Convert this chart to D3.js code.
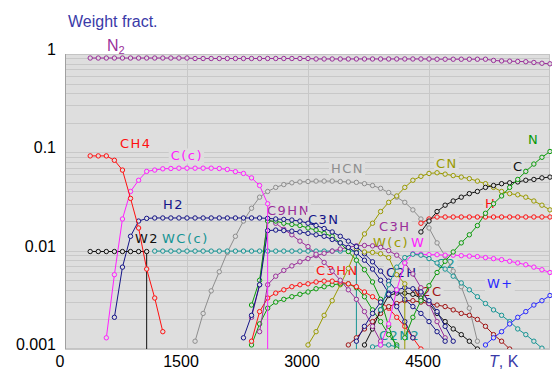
<!DOCTYPE html>
<html><head><meta charset="utf-8">
<script src="https://cdn.jsdelivr.net/npm/d3@7"></script>
<style>body{margin:0;background:#fff}svg{display:block}</style>
</head><body>
<svg id="c" width="552" height="369"></svg>
<script>
// ---------- DATA ----------
const temps = [300,400,500,600,700,800,900,1000,1100,1200,1300,1400,1500,1600,1700,1800,1900,2000,2100,2200,2300,2400,2500,2600,2700,2800,2900,3000,3100,3200,3300,3400,3500,3600,3700,3800,3900,4000,4100,4200,4300,4400,4500,4600,4700,4800,4900,5000,5100,5200,5300,5400,5500,5600,5700,5800,5900,6000];
const xTicks = [0,1500,3000,4500];
const yTicks = [1,0.1,0.01,0.001];
const yTickLabels = ["1","0.1","0.01","0.001"];

const vN2 = [0.91,0.91,0.91,0.91,0.91,0.91,0.91,0.91,0.91,0.91,0.91,0.91,0.91,
  0.90,0.90,0.90,0.90,0.90,0.90,0.90,0.90,0.90,0.90,0.90,0.90,0.90,0.90,0.90,
  0.89,0.89,0.89,0.89,0.89,0.89,0.89,0.89,0.89,0.89,0.89,0.89,0.89,0.89,0.89,
  0.885,0.885,0.885,0.885,0.885,0.885,0.885,0.86,0.85,0.845,0.84,0.835,0.82,0.805,0.795];
const vCH4 = [0.092,0.092,0.092,0.083,0.066,0.034,0.017,0.0065,0.0033,0.0015];
const vCc = [0.0013,0.0057,0.021,0.040,0.052,0.064,0.066,0.068,0.0685,0.069,0.069,0.069,0.069,0.069,0.0685,0.067,0.0636,0.061,0.055,0.046,0.030];
const vH2 = [0.0021,0.0068,0.014,0.020,0.0213,0.0215,0.0215,0.0215,0.0215,0.0215,0.0215,0.0215,0.0215,0.0215,0.0215,0.0215,0.0215,0.0215,0.0215,
  0.0213,0.021,0.0208,0.0205,0.020,0.019,0.018,0.0168,0.0155,0.014,0.0125,0.011,0.0093,0.0077,0.0062,0.0049,0.0039,0.0032,0.0027,0.0023,0.0019,0.0015,0.0012];
const vW2 = [0.0098,0.0098,0.0098,0.0098,0.0098,0.0098,0.0098,0.0098];
const vWCc = [0.0099,0.0099,0.0099,0.0099,0.0099,0.0099,0.0099,0.0099,0.0099,0.0099,0.0099,0.0099,0.0099,0.0099,0.0099,0.0099,0.0099,0.0099,0.0099,0.0099,0.0099,0.0099,0.0099,0.0099,0.0099,0.0099];
const vHCN = [0.0012,0.0023,0.0039,0.0061,0.0096,0.014,0.020,0.027,0.035,0.040,0.044,0.047,0.049,0.050,0.0505,0.051,0.051,0.051,0.0505,0.050,0.0495,0.048,0.046,0.043,0.039,0.035,0.031,0.026,0.021,0.017,0.012,0.0088,0.0062,0.0043,0.0026,0.0012];
const vCN = [0.0011,0.0015,0.0022,0.0031,0.0045,0.0066,0.0105,0.0148,0.019,0.025,0.031,0.036,0.044,0.052,0.057,0.061,0.062,0.060,0.058,0.056,0.054,0.051,0.048,0.044,0.040,0.038,0.037,0.035,0.032,0.029,0.026];
const vN = [0.0013,0.0021,0.0031,0.0044,0.006,0.0078,0.0097,0.012,0.0145,0.018,0.024,0.030,0.036,0.044,0.053,0.064,0.076,0.089,0.102];
const vC = [0.0155,0.020,0.025,0.029,0.032,0.035,0.038,0.040,0.044,0.046,0.048,0.049,0.050,0.052,0.053,0.055,0.056];
const vH = [0.019,0.021,0.022,0.022,0.022,0.022,0.022,0.022,0.022,0.022,0.022,0.022,0.022,0.022,0.022,0.022,0.022];
const vC9HN = [0.0021,0.0045,0.021,0.019,0.0165,0.0145,0.0125,0.011,0.0092,0.0076,0.0062,0.005,0.004,0.0032,0.0024,0.0017,0.0012];
const vC3N = [0.0013,0.0022,0.0045,0.016,0.0162,0.016,0.0158,0.0155,0.015,0.0145,0.014,0.013,0.012,0.0108,0.0095,0.008,0.0065,0.005,0.0037,0.0027,0.0019,0.0013];
const vC3HN = [0.0012,0.0024,0.0033,0.0037,0.0040,0.0043,0.0045,0.0046,0.0048,0.0049,0.0049,0.0048,0.0046,0.0043,0.0038,0.0034,0.0030,0.0026,0.0021,0.0017,0.0013,0.001];
const vC3H = [0.0015,0.0045,0.0055,0.0063,0.0070,0.0077,0.0083,0.0089,0.0094,0.0099,0.0104,0.0108,0.0112,0.0113,0.0112,0.0108,0.0100,0.0090,0.0075,0.0058,0.0042,0.0029,0.0019,0.0013];
const vC2H = [0.0012,0.0017,0.0023,0.0030,0.0036,0.0040,0.0042,0.0041,0.0038,0.0031,0.0024,0.0017,0.0012];
const vWc = [0.0097,0.0096,0.0093,0.0085,0.0057,0.0046];
const vW = [0.0011,0.0018,0.004,0.0075,0.0093,0.0092,0.0091,0.0091,0.009,0.009,0.0089,0.0088,0.0087,0.0085,0.0083,0.0081,0.0078,0.0075,0.0072,0.0068,0.0064,0.0060];
const vC2 = [0.0025,0.0045,0.0068,0.0085,0.0092,0.0090,0.0083,0.0075,0.0065,0.0055,0.0047,0.0040,0.0034,0.0029,0.0025,0.0022,0.0019,0.0016,0.0014,0.0012,0.00102];
const vN2C = [0.0011,0.0013,0.0016,0.0019,0.0023,0.0027,0.0029,0.0031,0.0031,0.0030,0.0029,0.0028,0.0027,0.0025,0.0023,0.0022,0.0020,0.0017,0.0014,0.0012,0.0010];
const vWp = [0.0011,0.0013,0.0015,0.0018,0.0021,0.0024,0.0028,0.0031,0.0035];
const vC2N2 = [0.00105,0.0011,0.0011,0.00105];
const vG1 = [0.0028,0.005,0.020,0.020,0.019,0.0185,0.018,0.017,0.0162,0.015,0.014,0.012,0.0098,0.0080,0.0064,0.0048,0.0032,0.0017,0.001];
const vG2 = [0.0011,0.0018,0.0026,0.003,0.0032,0.0034,0.0036,0.0038,0.0041,0.0043,0.0045,0.0046,0.0046,0.0042,0.0034,0.0025,0.0019,0.0014,0.0011];
const vK2 = [0.0011,0.0016,0.0025,0.0035,0.0037,0.0037,0.0036,0.0033,0.0029,0.0023,0.0019,0.0016,0.0014,0.0012,0.001];

// ---------- STYLE / LAYOUT ----------
const C = {
  purple:"#9a2f9a", red:"#ff1010", magenta:"#ff20ff", navy:"#141488", black:"#111111",
  teal:"#159494", gray:"#8e8e8e", olive:"#9a9a00", green:"#0a9a0a", dred:"#a01414", blue:"#2828ff"
};
const series = [
  {key:"N2",  from:300,  values:vN2,  color:C.purple},
  {key:"HCN", from:1600, values:vHCN, color:C.gray},
  {key:"WCc", from:1100, values:vWCc, color:C.teal, drop:true},
  {key:"CN",  from:3000, values:vCN,  color:C.olive},
  {key:"G2",  from:2300, values:vG2,  color:C.green},
  {key:"C3HN",from:2300, values:vC3HN,color:C.red},
  {key:"N2C", from:3500, values:vN2C, color:C.dred},
  {key:"C2N2",from:3800, values:vC2N2,color:C.teal},
  {key:"K2",  from:3700, values:vK2,  color:C.black},
  {key:"C3H", from:2400, values:vC3H, color:C.purple},
  {key:"C9HN",from:2300, values:vC9HN,color:C.purple},
  {key:"G1",  from:2300, values:vG1,  color:C.green},
  {key:"C3N", from:2200, values:vC3N, color:C.navy},
  {key:"C2H", from:3600, values:vC2H, color:C.navy},
  {key:"H2",  from:600,  values:vH2,  color:C.navy},
  {key:"Wc",  from:3700, values:vWc,  color:C.olive, drop:true},
  {key:"W",   from:3900, values:vW,   color:C.magenta},
  {key:"C2",  from:3900, values:vC2,  color:C.teal},
  {key:"Wp",  from:5200, values:vWp,  color:C.blue},
  {key:"H",   from:4400, values:vH,   color:C.red},
  {key:"C",   from:4400, values:vC,   color:C.black},
  {key:"N",   from:4200, values:vN,   color:C.green},
  {key:"W2",  from:300,  values:vW2,  color:C.black, drop:true},
  {key:"Cc",  from:500,  values:vCc,  color:C.magenta, drop:true},
  {key:"CH4", from:300,  values:vCH4, color:C.red}
];
// curve labels: anchored in data space (T, value) at left/baseline
const curveLabels = [
  {text:"CH4", T:669, v:0.111, color:C.red},
  {text:"C(c)", T:1298, v:0.0826, color:C.magenta},
  {text:"HCN", T:3285, v:0.0623, color:C.gray},
  {text:"CN", T:4587, v:0.0701, color:C.olive},
  {text:"N", T:5727, v:0.1215, color:C.green},
  {text:"C", T:5541, v:0.0653, color:C.black},
  {text:"H", T:5194, v:0.027, color:C.red},
  {text:"H2", T:1202, v:0.0265, color:C.navy},
  {text:"W2", T:855, v:0.01196, color:C.black},
  {text:"WC(c)", T:1190, v:0.0121, color:C.teal},
  {text:"C9HN", T:2492, v:0.0231, color:C.purple},
  {text:"C3N", T:3000, v:0.0187, color:C.navy},
  {text:"C3H", T:3880, v:0.0157, color:C.purple},
  {text:"W(c)", T:3806, v:0.0109, color:C.olive},
  {text:"W", T:4277, v:0.0110, color:C.magenta},
  {text:"C2", T:4587, v:0.00667, color:C.teal},
  {text:"C3HN", T:3099, v:0.00566, color:C.red},
  {text:"C2H", T:3967, v:0.00546, color:C.navy},
  {text:"N2C", T:4277, v:0.00342, color:C.dred},
  {text:"W+", T:5219, v:0.00417, color:C.blue},
  {text:"C2N2", T:3880, v:0.00123, color:C.teal}
];

// ---------- DRAW ----------
const svg = d3.select("#c");
const BG = "#dedede", GRID = "#c8c8c8";
const x = d3.scaleLinear().domain([0,6000]).range([66,550]);
const y = d3.scaleLog().domain([0.001,1]).range([349,54]);
const px0 = 65, px1 = 550, py0 = 54, py1 = 349;

svg.append("rect").attr("x",px0).attr("y",py0).attr("width",px1-px0).attr("height",py1-py0).attr("fill",BG);

const grid = svg.append("g").attr("stroke",GRID).attr("stroke-width",1).attr("shape-rendering","crispEdges");
grid.selectAll("line.h").data(y.ticks()).join("line")
  .attr("x1",px0).attr("x2",px1).attr("y1",d=>Math.round(y(d))+0.5).attr("y2",d=>Math.round(y(d))+0.5);
grid.selectAll("line.v").data(xTicks.filter(t=>t>0)).join("line")
  .attr("y1",py0).attr("y2",py1).attr("x1",d=>Math.round(x(d))+0.5).attr("x2",d=>Math.round(x(d))+0.5);

// border
svg.append("rect").attr("x",px0+0.5).attr("y",py0+0.5).attr("width",px1-px0-1).attr("height",py1-py0-1)
  .attr("fill","none").attr("stroke","#c4c4c4").attr("shape-rendering","crispEdges");
svg.append("line").attr("x1",px0+0.5).attr("x2",px0+0.5).attr("y1",py0).attr("y2",py1)
  .attr("stroke","#a0a0a0").attr("shape-rendering","crispEdges");

// axis labels
const tickFont = "Liberation Sans, Arial, sans-serif";
svg.append("g").selectAll("text").data(yTicks).join("text")
  .attr("x",56).attr("y",d=>y(d)+1).attr("text-anchor","end")
  .attr("font-family",tickFont).attr("font-size",16).attr("fill","#000")
  .text((d,i)=>yTickLabels[i]);
svg.append("g").selectAll("text").data(xTicks).join("text")
  .attr("x",d=>x(d)-6).attr("y",367).attr("text-anchor","middle")
  .attr("font-family",tickFont).attr("font-size",16).attr("fill","#000")
  .text(d=>d);

svg.append("text").attr("x",68).attr("y",27).attr("font-family",tickFont).attr("font-size",16)
  .attr("fill","#3a3aa8").text("Weight fract.");
const tk = svg.append("text").attr("x",489).attr("y",367).attr("font-family",tickFont).attr("font-size",16).attr("fill","#3a3aa8");
tk.append("tspan").attr("font-style","italic").text("T");
tk.append("tspan").text(", K");

// N2 label with subscript
const n2 = svg.append("text").attr("x",x(508)).attr("y",y(1.073)).attr("font-family",tickFont).attr("font-size",16).attr("fill",C.purple);
n2.append("tspan").text("N");
n2.append("tspan").attr("font-size",11).attr("dy",3).text("2");

// curve labels with background
const lblG = svg.append("g");
curveLabels.forEach(l=>{
  const g = lblG.append("g");
  const t = g.append("text").attr("x",x(l.T)).attr("y",y(l.v))
    .attr("font-family","DejaVu Sans, sans-serif").attr("font-size",13).attr("letter-spacing",1.5)
    .attr("fill",l.color).text(l.text);
  const b = t.node().getBBox();
  g.insert("rect","text").attr("x",b.x-2).attr("y",b.y).attr("width",b.width+3).attr("height",b.height).attr("fill",BG);
});

// curves
svg.append("clipPath").attr("id","plotclip").append("rect").attr("x",px0).attr("y",py0-4).attr("width",px1-px0+4).attr("height",py1-py0+4);
const curves = svg.append("g").attr("clip-path","url(#plotclip)");
const line = d3.line().x(d=>x(d.T)).y(d=>y(d.v));
series.forEach(s=>{
  const i0 = temps.indexOf(s.from);
  const pts = s.values.map((v,i)=>({T:temps[i0+i], v}));
  const linePts = s.drop ? pts.concat([{T:pts[pts.length-1].T, v:0.001}]) : pts;
  const g = curves.append("g");
  g.append("path").attr("d",line(linePts)).attr("fill","none").attr("stroke",s.color).attr("stroke-width",1);
  g.selectAll("circle").data(pts).join("circle")
    .attr("cx",d=>x(d.T)).attr("cy",d=>y(d.v)).attr("r",2.2)
    .attr("fill",BG).attr("stroke",s.color).attr("stroke-width",1);
});
</script>
</body></html>
